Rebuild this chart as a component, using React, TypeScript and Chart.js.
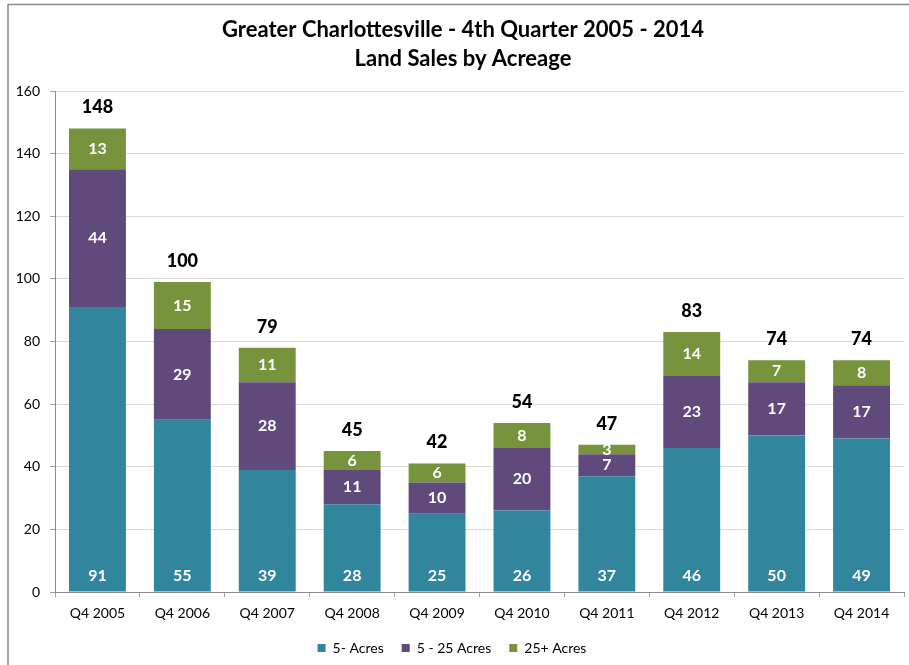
import React, { useEffect, useRef } from "react";
import { Chart, registerables } from "chart.js";

Chart.register(...registerables);

const categories = ["Q4 2005", "Q4 2006", "Q4 2007", "Q4 2008", "Q4 2009", "Q4 2010", "Q4 2011", "Q4 2012", "Q4 2013", "Q4 2014"];
const seriesNames = ["5- Acres", "5 - 25 Acres", "25+ Acres"];
const smallAcres = [91, 55, 39, 28, 25, 26, 37, 46, 50, 49];
const midAcres = [44, 29, 28, 11, 10, 20, 7, 23, 17, 17];
const largeAcres = [13, 15, 11, 6, 6, 8, 3, 14, 7, 8];
const totals = [148, 100, 79, 45, 42, 54, 47, 83, 74, 74];
const titleLines = ["Greater Charlottesville - 4th Quarter 2005 - 2014", "Land Sales by Acreage"];
const yMax = 160;
const yStep = 20;

const colors = ["#31859C", "#604A7B", "#77933C"];
const FONT = "Lato";

const decorPlugin = {
  id: "decor",
  beforeDraw(chart: any) {
    const ctx = chart.ctx;
    ctx.save();
    ctx.fillStyle = "#ffffff";
    ctx.fillRect(0, 0, chart.width, chart.height);
    ctx.strokeStyle = "#8a8a8a";
    ctx.lineWidth = 1.5;
    ctx.beginPath();
    ctx.moveTo(8, chart.height);
    ctx.lineTo(8, 4.5);
    ctx.lineTo(chart.width, 4.5);
    ctx.stroke();
    ctx.fillStyle = "#000";
    ctx.textAlign = "center";
    ctx.textBaseline = "middle";
    ctx.font = `bold 22px ${FONT}`;
    ctx.fillText(titleLines[0], 463, 30);
    ctx.fillText(titleLines[1], 463, 59);
    ctx.restore();
  },
  afterDatasetsDraw(chart: any) {
    const ctx = chart.ctx;
    ctx.save();
    ctx.textAlign = "center";
    ctx.textBaseline = "middle";
    chart.data.datasets.forEach((ds: any, di: number) => {
      const meta = chart.getDatasetMeta(di);
      meta.data.forEach((el: any, i: number) => {
        const { x, y, base } = el.getProps(["x", "y", "base"], true);
        const ly = di === 0 ? base - 16 : (y + base) / 2;
        ctx.font = `bold 16px ${FONT}`;
        ctx.fillStyle = "#ffffff";
        ctx.fillText(String(ds.data[i]), x, ly);
      });
    });
    const topMeta = chart.getDatasetMeta(chart.data.datasets.length - 1);
    topMeta.data.forEach((el: any, i: number) => {
      const { x, y } = el.getProps(["x", "y"], true);
      ctx.font = `900 18px ${FONT}`;
      ctx.fillStyle = "#000000";
      ctx.fillText(String(totals[i]), x, y - 21);
    });
    ctx.restore();
  },
};

export default function App() {
  const ref = useRef<HTMLCanvasElement | null>(null);
  useEffect(() => {
    document.body.style.margin = "0";
    const canvas = ref.current;
    if (!canvas) return;
    const data = [smallAcres, midAcres, largeAcres];
    const chart = new Chart(canvas, {
      type: "bar",
      data: {
        labels: categories,
        datasets: seriesNames.map((name, i) => ({
          label: name,
          data: data[i],
          backgroundColor: colors[i],
          borderWidth: 0,
          barPercentage: 0.67,
          categoryPercentage: 1,
        })),
      },
      options: {
        responsive: false,
        animation: false,
        devicePixelRatio: 1,
        layout: { padding: { top: 91, right: 5, bottom: 0, left: 0 } },
        plugins: {
          title: { display: false },
          tooltip: { enabled: false },
          legend: {
            position: "bottom",
            labels: {
              boxWidth: 8,
              boxHeight: 8,
              padding: 18,
              color: "#000",
              font: { family: FONT, size: 14 },
            },
          },
        },
        scales: {
          x: {
            stacked: true,
            ticks: { color: "#000", font: { family: FONT, size: 14 }, padding: 8 },
            grid: { drawOnChartArea: false, tickLength: 5, color: "#a6a6a6", offset: true },
            border: { color: "#8c8c8c", width: 1 },
            afterFit: (s: any) => {
              s.height = 31;
            },
          },
          y: {
            stacked: true,
            min: 0,
            max: yMax,
            ticks: { stepSize: yStep, color: "#000", font: { family: FONT, size: 14 }, padding: 10 },
            grid: { color: "#d9d9d9", tickColor: "#a6a6a6", tickLength: 5, lineWidth: 1 },
            border: { color: "#8c8c8c", width: 1 },
            afterFit: (s: any) => {
              s.width = 55;
            },
          },
        },
      },
      plugins: [decorPlugin],
    });
    return () => chart.destroy();
  }, []);
  return (
    <div style={{ width: 909, height: 665 }}>
      <canvas ref={ref} width={909} height={665} style={{ display: "block" }} />
    </div>
  );
}
